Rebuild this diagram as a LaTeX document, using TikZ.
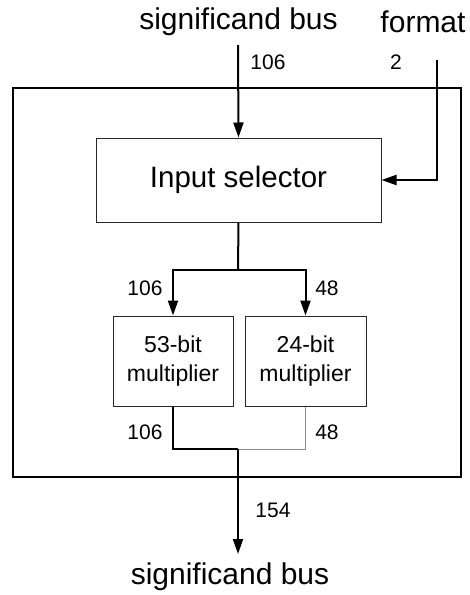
\documentclass[tikz,border=0pt]{standalone}
\usepackage{fontspec}
\setmainfont{Liberation Sans}
\usetikzlibrary{arrows.meta,positioning,calc}

\begin{document}
\begin{tikzpicture}[
    x=1pt,
    y=-1pt,
    biglabel/.style={
        inner sep=0pt,
        font=\fontsize{30}{34}\selectfont
    },
    num/.style={
        inner sep=0pt,
        font=\fontsize{21}{24}\selectfont
    },
    block/.style={
        draw=black!85,
        line width=1pt,
        align=center,
        inner sep=0pt
    },
    unitbox/.style={
        draw,
        line width=2pt,
        inner sep=0pt
    },
    bus/.style={-{Triangle[width=10pt,length=15pt]}, line width=2pt},
    wire/.style={line width=2pt},
    thinwire/.style={line width=1pt, draw=black!45}
]
\useasboundingbox (0,0) rectangle (470,595);

% --- Outer unit ---
\node[unitbox, minimum width=448pt, minimum height=389pt] (unit) at (237,282.5) {};

% --- Blocks ---
\node[block, minimum width=285pt, minimum height=84pt, font=\fontsize{29.5}{34}\selectfont] (sel) at (238.5,180) {Input selector};
\node[block, minimum width=120pt, minimum height=90pt, font=\fontsize{23}{29}\selectfont] (mul53) at (173,361) {53-bit\\multiplier};
\node[block, minimum width=121pt, minimum height=90pt, font=\fontsize{23}{29}\selectfont] (mul24) at (305.5,361) {24-bit\\multiplier};

% --- Outside labels ---
\node[biglabel] (sigin) at (238.5,22) {significand bus};
\node[biglabel] (fmt) at (423,22) {format};
\node[biglabel] (sigout) at (230,577) {significand bus};

% --- Junctions ---
\coordinate (busin) at (238,45);
\coordinate (fmtin) at (437,60);
\coordinate (split) at (238,270);
\coordinate (merge) at (238,449);
\coordinate (busout) at (238,554);

% --- Connections ---
\draw[bus] (busin) -- (sel.north);
\draw[bus] (fmtin) |- (sel.east);
\draw[wire] (sel.south) -- (split);
\draw[bus] (split) -| (mul53.north);
\draw[bus] (split) -| (mul24.north);
\draw[wire] (mul53.south) |- (merge);
\draw[thinwire] (mul24.south) |- (merge);
\draw[bus] (merge) -- (busout);

% --- Widths ---
\node[num] (w106in) at (268,62) {106};
\node[num] (w2) at (396,62) {2};
\node[num] (w106a) at (145,288) {106};
\node[num] (w48a) at (327,288) {48};
\node[num] (w106b) at (145,432) {106};
\node[num] (w48b) at (327,432) {48};
\node[num] (w154) at (273,510) {154};

\end{tikzpicture}
\end{document}
